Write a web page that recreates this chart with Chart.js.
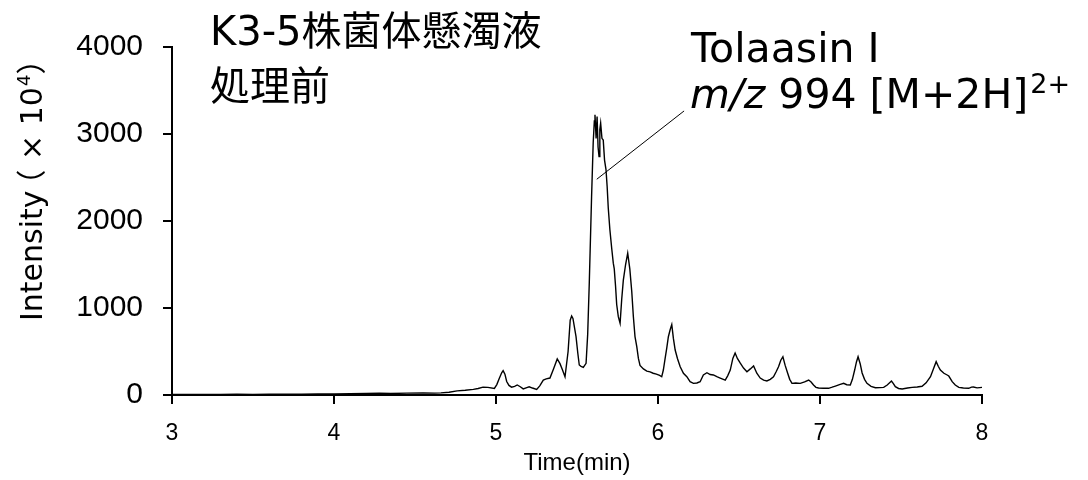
<!DOCTYPE html>
<html>
<head>
<meta charset="utf-8">
<title>Tolaasin I</title>
<script src="https://cdn.jsdelivr.net/npm/chart.js@4"></script>
<style>
  html, body { margin: 0; padding: 0; background: #fff; }
  #chart { display: block; }
</style>
</head>
<body>
<canvas id="chart" width="1088" height="480"></canvas>
<script>
'use strict';

// ************************** DATA ****************************************** //
let times = [
  3.00, 3.10, 3.20, 3.30, 3.40, 3.50, 3.60, 3.70, 3.80, 3.90,
  4.00, 4.10, 4.20, 4.28, 4.35, 4.45, 4.55, 4.62, 4.66, 4.71,
  4.76, 4.81, 4.86, 4.89, 4.92, 4.95, 4.99, 5.005, 5.02, 5.035,
  5.044, 5.055, 5.066, 5.08, 5.096, 5.115, 5.131, 5.15, 5.168, 5.19,
  5.205, 5.225, 5.251, 5.27, 5.292, 5.31, 5.333, 5.355, 5.378, 5.395,
  5.41, 5.426, 5.445, 5.458, 5.467, 5.475, 5.494, 5.505, 5.514, 5.525,
  5.539, 5.556, 5.566, 5.576, 5.59, 5.60, 5.607, 5.611, 5.618, 5.624,
  5.63, 5.636, 5.641, 5.646, 5.654, 5.662, 5.67, 5.679, 5.686, 5.693,
  5.703, 5.714, 5.724, 5.73, 5.738, 5.745, 5.755, 5.766, 5.776, 5.786,
  5.80, 5.813, 5.826, 5.838, 5.848, 5.858, 5.869, 5.879, 5.889, 5.91,
  5.931, 5.951, 5.97, 5.99, 6.01, 6.023, 6.033, 6.044, 6.054, 6.064,
  6.075, 6.085, 6.095, 6.106, 6.12, 6.137, 6.157, 6.178, 6.198, 6.219,
  6.24, 6.26, 6.28, 6.302, 6.322, 6.342, 6.363, 6.384, 6.415, 6.43,
  6.446, 6.462, 6.476, 6.49, 6.507, 6.528, 6.549, 6.57, 6.59, 6.61,
  6.631, 6.652, 6.672, 6.693, 6.713, 6.73, 6.744, 6.758, 6.771, 6.785,
  6.80, 6.813, 6.827, 6.85, 6.878, 6.905, 6.93, 6.945, 6.96, 6.975,
  6.991, 7.02, 7.053, 7.075, 7.095, 7.12, 7.146, 7.165, 7.187, 7.20,
  7.214, 7.225, 7.235, 7.248, 7.26, 7.275, 7.29, 7.315, 7.342, 7.37,
  7.393, 7.415, 7.441, 7.453, 7.465, 7.485, 7.507, 7.54, 7.569, 7.60,
  7.63, 7.655, 7.682, 7.70, 7.717, 7.73, 7.743, 7.765, 7.785, 7.795,
  7.816, 7.835, 7.857, 7.885, 7.918, 7.935, 7.947, 7.97, 8.00
];

let intensity = [
  5, 6, 5, 7, 8, 7, 9, 10, 9, 12,
  11, 14, 17, 22, 18, 21, 23, 21, 24, 32,
  48, 55, 65, 75, 90, 88, 76, 120, 190, 255,
  280, 240, 155, 110, 90, 100, 115, 95, 70, 85,
  95, 80, 65, 105, 172, 185, 195, 300, 415, 360,
  290, 210, 500, 860, 908, 880, 670, 480, 345, 330,
  318, 364, 700, 1300, 2280, 2900, 3150, 3220, 2950, 3200,
  2850, 2740, 3050, 3125, 2950, 2930, 2700, 2590, 2400, 2150,
  1900, 1690, 1515, 1450, 1250, 1040, 900, 825, 1100, 1320,
  1500, 1630, 1450, 1190, 900, 671, 555, 420, 340, 300,
  275, 265, 250, 240, 225, 210, 287, 420, 540, 670,
  750, 810, 650, 517, 420, 325, 250, 210, 153, 134,
  138, 153, 230, 256, 235, 230, 210, 195, 172, 220,
  287, 420, 483, 420, 368, 310, 268, 300, 333, 250,
  195, 170, 161, 180, 210, 270, 325, 400, 440, 340,
  253, 180, 134, 138, 134, 150, 172, 150, 115, 88,
  80, 78, 77, 90, 103, 120, 134, 118, 115, 180,
  287, 380, 440, 360, 253, 180, 134, 100, 84, 85,
  88, 115, 161, 130, 95, 75, 69, 80, 88, 92,
  100, 140, 210, 300, 383, 330, 287, 250, 230, 218,
  153, 115, 88, 80, 77, 90, 92, 82, 88
];

let xTicks = [3, 4, 5, 6, 7, 8];
let yTicks = [0, 1000, 2000, 3000, 4000];

let titleLines = ['K3-5株菌体懸濁液', '処理前'];
let peakName = 'Tolaasin I';
let peakIon = ['m/z', ' 994 [M+2H]', '2+'];
// leader line, data coordinates (time, intensity): peak -> label
let leaderStart = [5.622, 2480];
let leaderEnd = [6.161, 3265];

// ************************** DOM REFERENCES ******************************** //
let chart = document.getElementById('chart');

// ************************** HELPERS *************************************** //
let points = [];
for(let i = 0; i < times.length; i++) {
  points.push({ x: times[i], y: intensity[i] });
}

let tickFont = { family: '"Liberation Sans", Arial, sans-serif' };

// text that Chart.js titles cannot place: headline, peak label, y title
let labelPlugin = {
  id: 'labels',
  afterDraw(c) {
    let ctx = c.ctx;
    let x = c.scales.x;
    let y = c.scales.y;
    ctx.save();

    // leader line
    ctx.strokeStyle = '#000';
    ctx.lineWidth = 1;
    ctx.beginPath();
    ctx.moveTo(x.getPixelForValue(leaderStart[0]), y.getPixelForValue(leaderStart[1]));
    ctx.lineTo(x.getPixelForValue(leaderEnd[0]), y.getPixelForValue(leaderEnd[1]));
    ctx.stroke();

    ctx.fillStyle = '#000';
    ctx.textAlign = 'left';
    ctx.textBaseline = 'alphabetic';

    // headline
    ctx.font = '40px "DejaVu Sans", "Noto Sans CJK JP", sans-serif';
    ctx.fillText(titleLines[0], 210, 45);
    ctx.fillText(titleLines[1], 210, 100);

    // peak label
    ctx.font = '41px "DejaVu Sans", sans-serif';
    ctx.fillText(peakName, 691, 62);
    let px = 690;
    ctx.font = 'italic 41px "DejaVu Sans", sans-serif';
    ctx.fillText(peakIon[0], px, 108);
    px += ctx.measureText(peakIon[0]).width;
    ctx.font = '41px "DejaVu Sans", sans-serif';
    ctx.fillText(peakIon[1], px, 108);
    px += ctx.measureText(peakIon[1]).width;
    ctx.font = '27px "DejaVu Sans", sans-serif';
    ctx.fillText(peakIon[2], px + 2, 93);

    // y axis title: Intensity（ × 10⁴）
    ctx.translate(42, 321);
    ctx.rotate(-Math.PI / 2);
    let big = '30px "DejaVu Sans", "Noto Sans CJK JP", sans-serif';
    ctx.font = big;
    ctx.fillText('Intensity', 0, 0);
    let w = ctx.measureText('Intensity').width - 9;
    ctx.fillText('（', w, 0);
    w += ctx.measureText('（').width;
    ctx.fillText(' × 10', w, 0);
    w += ctx.measureText(' × 10').width;
    ctx.font = '18px "DejaVu Sans", sans-serif';
    ctx.fillText('4', w + 1, -12);
    w += ctx.measureText('4').width + 1;
    ctx.font = big;
    ctx.fillText('）', w, 0);

    ctx.restore();
  }
};

// ************************** CHART ***************************************** //
function renderChart() {
  let chartObj = {
    type: 'line',
    data: {
      datasets: [{
        data: points,
        borderColor: '#000',
        borderWidth: 1.4,
        pointRadius: 0,
        tension: 0,
        fill: false
      }]
    },
    options: {
      responsive: false,
      animation: false,
      devicePixelRatio: 1,
      layout: {
        padding: { left: 0, top: 47, right: 106, bottom: 0 }
      },
      plugins: {
        legend: { display: false },
        tooltip: { enabled: false }
      },
      scales: {
        x: {
          type: 'linear',
          min: xTicks[0],
          max: xTicks[xTicks.length - 1],
          afterBuildTicks: (axis) => {
            axis.ticks = xTicks.map(v => ({ value: v }));
          },
          afterFit: (axis) => {
            axis.height = 85;
          },
          ticks: {
            color: '#000',
            font: { ...tickFont, size: 23 },
            padding: 16,
            maxRotation: 0,
            callback: (v) => String(v)
          },
          grid: {
            drawOnChartArea: false,
            color: '#000',
            lineWidth: 2,
            tickLength: 9
          },
          border: { color: '#000', width: 2 },
          title: {
            display: true,
            text: 'Time(min)',
            color: '#000',
            font: { ...tickFont, size: 24 },
            padding: { top: 0, bottom: 2 }
          }
        },
        y: {
          min: yTicks[0],
          max: yTicks[yTicks.length - 1],
          afterBuildTicks: (axis) => {
            axis.ticks = yTicks.map(v => ({ value: v }));
          },
          afterFit: (axis) => {
            axis.width = 172;
          },
          ticks: {
            color: '#000',
            font: { ...tickFont, size: 30 },
            padding: 20,
            callback: (v) => String(v)
          },
          grid: {
            drawOnChartArea: false,
            color: '#000',
            lineWidth: 2,
            tickLength: 9
          },
          border: { color: '#000', width: 2 }
        }
      }
    },
    plugins: [labelPlugin]
  };

  new Chart(chart, chartObj);
}

renderChart();
</script>
</body>
</html>
